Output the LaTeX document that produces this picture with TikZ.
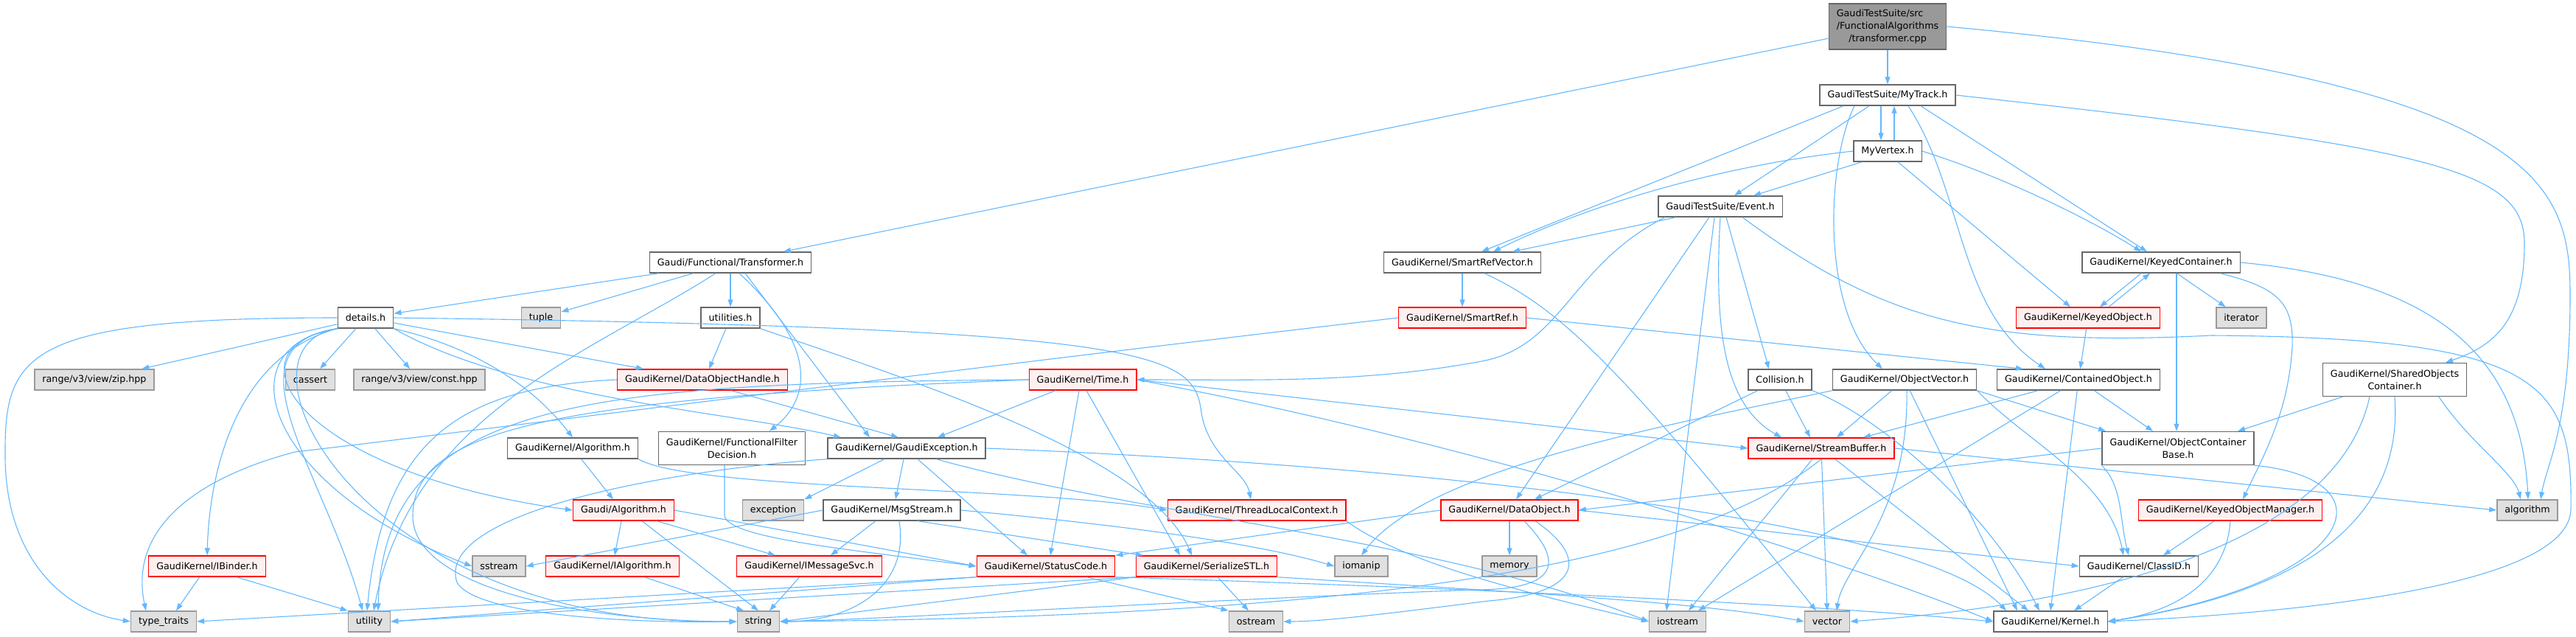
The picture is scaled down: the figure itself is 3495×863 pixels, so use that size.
\documentclass[tikz,border=0pt]{standalone}
\usepackage{fontspec}
\setmainfont{DejaVu Sans}
\usetikzlibrary{arrows.meta}
\definecolor{edgeBlue}{HTML}{63B8FF}
\definecolor{boxGray}{HTML}{666666}
\definecolor{sysGray}{HTML}{999999}
\definecolor{sysFill}{HTML}{E0E0E0}
\definecolor{truncFill}{HTML}{FFF0F0}
\begin{document}
\begin{tikzpicture}[x=1pt,y=-1pt,
    hdrBox/.style={draw=boxGray,fill=white,line width=1.4pt,inner xsep=10.5pt,inner ysep=2pt,
        minimum height=28pt,align=center,font=\fontsize{12.7}{17}\selectfont},
    hdrTrunc/.style={hdrBox,draw=red,fill=truncFill},
    hdrSys/.style={hdrBox,draw=sysGray,fill=sysFill},
    hdrRoot/.style={hdrBox,fill=sysGray,minimum height=62pt},
    hdrTwo/.style={minimum height=45pt},
    incEdge/.style={-{Triangle[length=10pt,width=7pt]},draw=edgeBlue,line width=1.1pt},
]
\useasboundingbox (0,0) rectangle (3495,863);
% files
\node[hdrRoot] (src) at (2561,36) {\rlap{GaudiTestSuite/src}\phantom{/FunctionalAlgorithms}\\/FunctionalAlgorithms\\/transformer.cpp};
\node[hdrBox] (mytrack) at (2561,129) {GaudiTestSuite/MyTrack.h};
\node[hdrBox] (myvertex) at (2561,205) {MyVertex.h};
\node[hdrBox] (event) at (2334,280) {GaudiTestSuite/Event.h};
\node[hdrBox] (transformer) at (991,356) {Gaudi/Functional/Transformer.h};
\node[hdrBox] (smartRefVector) at (1984,356) {GaudiKernel/SmartRefVector.h};
\node[hdrBox] (keyedContainer) at (2932,356) {GaudiKernel/KeyedContainer.h};
\node[hdrBox] (details) at (496,431) {details.h};
\node[hdrSys] (tuple) at (734,431) {tuple};
\node[hdrBox] (utilities) at (991,431) {utilities.h};
\node[hdrTrunc] (smartRef) at (1984,431) {GaudiKernel/SmartRef.h};
\node[hdrTrunc] (keyedObject) at (2833,431) {GaudiKernel/KeyedObject.h};
\node[hdrSys] (iterator) at (3041,431) {iterator};
\node[hdrSys] (rangeZip) at (128,515) {range/v3/view/zip.hpp};
\node[hdrSys] (cassert) at (421,515) {cassert};
\node[hdrSys] (rangeConst) at (569,515) {range/v3/view/const.hpp};
\node[hdrTrunc] (dataObjHandle) at (953,515) {GaudiKernel/DataObjectHandle.h};
\node[hdrTrunc] (time) at (1469,515) {GaudiKernel/Time.h};
\node[hdrBox] (collision) at (2415,515) {Collision.h};
\node[hdrBox] (objectVector) at (2584,515) {GaudiKernel/ObjectVector.h};
\node[hdrBox] (containedObj) at (2820,515) {GaudiKernel/ContainedObject.h};
\node[hdrBox,hdrTwo] (sharedObjs) at (3249,515) {GaudiKernel/SharedObjects\\Container.h};
\node[hdrBox] (kAlgorithm) at (777,608) {GaudiKernel/Algorithm.h};
\node[hdrBox,hdrTwo] (filterDecision) at (993,608) {GaudiKernel/FunctionalFilter\\Decision.h};
\node[hdrBox] (gaudiExc) at (1230,608) {GaudiKernel/GaudiException.h};
\node[hdrTrunc] (streamBuffer) at (2471,608) {GaudiKernel/StreamBuffer.h};
\node[hdrBox,hdrTwo] (objContBase) at (2955,608) {GaudiKernel/ObjectContainer\\Base.h};
\node[hdrTrunc] (gAlgorithm) at (846,692) {Gaudi/Algorithm.h};
\node[hdrSys] (exception) at (1049,692) {exception};
\node[hdrBox] (msgStream) at (1210,692) {GaudiKernel/MsgStream.h};
\node[hdrTrunc] (threadLocal) at (1705,692) {GaudiKernel/ThreadLocalContext.h};
\node[hdrTrunc] (dataObject) at (2048,692) {GaudiKernel/DataObject.h};
\node[hdrTrunc] (keyedObjMgr) at (3026,692) {GaudiKernel/KeyedObjectManager.h};
\node[hdrSys] (algorithm) at (3429,692) {algorithm};
\node[hdrTrunc] (iBinder) at (281,768) {GaudiKernel/IBinder.h};
\node[hdrSys] (sstream) at (677,768) {sstream};
\node[hdrTrunc] (iAlgorithm) at (831,768) {GaudiKernel/IAlgorithm.h};
\node[hdrTrunc] (iMessageSvc) at (1098,768) {GaudiKernel/IMessageSvc.h};
\node[hdrTrunc] (statusCode) at (1419,768) {GaudiKernel/StatusCode.h};
\node[hdrTrunc] (serializeSTL) at (1637,768) {GaudiKernel/SerializeSTL.h};
\node[hdrSys] (iomanip) at (1847,768) {iomanip};
\node[hdrSys] (memory) at (2048,768) {memory};
\node[hdrBox] (classID) at (2902,768) {GaudiKernel/ClassID.h};
\node[hdrSys] (typeTraits) at (222,843) {type\_traits};
\node[hdrSys] (utility) at (501,843) {utility};
\node[hdrSys] (string) at (1029,843) {string};
\node[hdrSys] (ostream) at (1704,843) {ostream};
\node[hdrSys] (iostream) at (2276,843) {iostream};
\node[hdrSys] (vector) at (2479,843) {vector};
\node[hdrBox] (kernel) at (2782,843) {GaudiKernel/Kernel.h};
% transformer.cpp
\draw[incEdge] (src) -- (transformer);
\draw[incEdge] (src) -- (mytrack);
\draw[incEdge] (src.east) .. controls (3450,110) and (3487,250) .. (3487,400) .. controls (3487,580) and (3455,630) .. ([xshift=18pt]algorithm.north);
% MyTrack.h
\draw[incEdge] ([xshift=-9pt]mytrack.south) -- ([xshift=-9pt]myvertex.north);
\draw[incEdge] ([xshift=-25pt]mytrack.south) -- ([xshift=19pt]event.north);
\draw[incEdge] ([xshift=-60pt]mytrack.south) -- ([xshift=26pt]smartRefVector.north);
\draw[incEdge] ([xshift=-45pt]mytrack.south) .. controls (2478,220) and (2470,420) .. ([xshift=-30pt]objectVector.north);
\draw[incEdge] ([xshift=28pt]mytrack.south) .. controls (2665,260) and (2655,420) .. ([xshift=-45pt]containedObj.north);
\draw[incEdge] ([xshift=45pt]mytrack.south) -- ([xshift=-19pt]keyedContainer.north);
\draw[incEdge] (mytrack.east) .. controls (3300,200) and (3425,230) .. (3425,330) .. controls (3425,440) and (3380,470) .. ([xshift=69pt]sharedObjs.north);
% MyVertex.h
\draw[incEdge] ([xshift=9pt]myvertex.north) -- ([xshift=9pt]mytrack.south);
\draw[incEdge] ([xshift=-35pt]myvertex.south) -- ([xshift=45pt]event.north);
\draw[incEdge] (myvertex.west) .. controls (2330,225) and (2150,280) .. ([xshift=42pt]smartRefVector.north);
\draw[incEdge] ([xshift=14pt]myvertex.south) -- ([xshift=-24pt]keyedObject.north);
\draw[incEdge] (myvertex.east) .. controls (2720,240) and (2840,300) .. ([xshift=-27pt]keyedContainer.north);
% Event.h
\draw[incEdge] ([xshift=-60pt]event.south) -- ([xshift=68pt]smartRefVector.north);
\draw[incEdge] ([xshift=-75pt]event.south) .. controls (2130,360) and (2120,470) .. (2010,490) .. controls (1850,520) and (1700,515) .. (time.east);
\draw[incEdge] ([xshift=-15pt]event.south) -- ([xshift=9pt]dataObject.north);
\draw[incEdge] ([xshift=-8pt]event.south) -- ([xshift=-15pt]iostream.north);
\draw[incEdge] (event.south) .. controls (2325,450) and (2340,550) .. ([xshift=-54pt]streamBuffer.north);
\draw[incEdge] ([xshift=8pt]event.south) -- ([xshift=-15pt]collision.north);
\draw[incEdge] ([xshift=30pt]event.south) .. controls (2560,440) and (2700,470) .. (3000,455) .. controls (3450,458) and (3490,520) .. (3488,690) .. controls (3488,790) and (3150,830) .. (kernel.east);
% Transformer.h
\draw[incEdge] (transformer) -- (details);
\draw[incEdge] (transformer) -- (tuple);
\draw[incEdge] (transformer) -- (utilities);
\draw[incEdge] ([xshift=-20pt]transformer.south) .. controls (800,480) and (560,560) .. ([xshift=6pt]utility.north);
\draw[incEdge] ([xshift=12pt]transformer.south) .. controls (1110,470) and (1100,540) .. ([xshift=51pt]filterDecision.north);
\draw[incEdge] ([xshift=20pt]transformer.south) -- ([xshift=-50pt]gaudiExc.north);
% details.h
\draw[incEdge] (details) -- (rangeZip);
\draw[incEdge] (details) -- (cassert);
\draw[incEdge] (details) -- (rangeConst);
\draw[incEdge] (details) -- (dataObjHandle);
\draw[incEdge] (details.west) .. controls (30,431) and (6,480) .. (7,620) .. controls (8,760) and (90,830) .. (typeTraits.west);
\draw[incEdge] (details.south west) .. controls (330,480) and (285,620) .. (iBinder.north);
\draw[incEdge] (details.south west) .. controls (300,470) and (360,660) .. (sstream.west);
\draw[incEdge] (details.south west) .. controls (300,470) and (400,640) .. (gAlgorithm.west);
\draw[incEdge] (details.south west) .. controls (300,470) and (440,640) .. ([xshift=-9pt]utility.north);
\draw[incEdge] (details.south west) .. controls (300,470) and (480,850) .. (string.west);
\draw[incEdge] (details.south east) .. controls (640,470) and (720,520) .. (kAlgorithm.north);
\draw[incEdge] (details.south east) .. controls (700,540) and (1000,560) .. ([xshift=-89pt]gaudiExc.north);
\draw[incEdge] (details.east) .. controls (1580,445) and (1620,480) .. (1630,560) .. controls (1640,620) and (1690,640) .. ([xshift=-8pt]threadLocal.north);
% utilities.h
\draw[incEdge] (utilities) -- ([xshift=9pt]dataObjHandle.north);
\draw[incEdge] (utilities.south east) .. controls (1250,520) and (1560,620) .. ([xshift=-20pt]serializeSTL.north);
% SmartRefVector.h, SmartRef.h
\draw[incEdge] (smartRefVector) -- (smartRef);
\draw[incEdge] ([xshift=30pt]smartRefVector.south) .. controls (2120,420) and (2200,500) .. ([xshift=-15pt]vector.north);
\draw[incEdge] (smartRef.east) -- ([xshift=-75pt]containedObj.north);
\draw[incEdge] (smartRef.west) .. controls (1300,500) and (600,590) .. (400,613) .. controls (260,650) and (175,720) .. ([xshift=-24pt]typeTraits.north);
% DataObjectHandle.h
\draw[incEdge] ([xshift=39pt]dataObjHandle.south) -- ([xshift=-11pt]gaudiExc.north);
\draw[incEdge] (dataObjHandle.west) .. controls (620,525) and (520,600) .. ([xshift=-3pt]utility.north);
% Time.h
\draw[incEdge] (time) -- ([xshift=42pt]gaudiExc.north);
\draw[incEdge] ([xshift=-5pt]time.south) -- ([xshift=6pt]statusCode.north);
\draw[incEdge] ([xshift=5pt]time.south) -- ([xshift=-36pt]serializeSTL.north);
\draw[incEdge] (time.east) -- (streamBuffer.west);
\draw[incEdge] (time.east) .. controls (2000,600) and (2500,760) .. (kernel.west);
\draw[incEdge] (time.west) .. controls (800,520) and (520,540) .. ([xshift=12pt]utility.north);
\draw[incEdge] (time.west) .. controls (760,540) and (560,580) .. (560,700) .. controls (560,800) and (800,843) .. (string.west);
% Collision.h
\draw[incEdge] (collision) -- ([xshift=34pt]dataObject.north);
\draw[incEdge] (collision) -- ([xshift=-15pt]streamBuffer.north);
\draw[incEdge] (collision.south east) .. controls (2560,570) and (2700,700) .. ([xshift=-15pt]kernel.north);
% ObjectVector.h
\draw[incEdge] (objectVector.south west) .. controls (2300,570) and (1940,630) .. (iomanip.north);
\draw[incEdge] (objectVector) -- ([xshift=21pt]streamBuffer.north);
\draw[incEdge] ([xshift=3pt]objectVector.south) .. controls (2590,700) and (2500,770) .. ([xshift=13pt]vector.north);
\draw[incEdge] (objectVector) -- ([xshift=-45pt]kernel.north);
\draw[incEdge] (objectVector.south east) .. controls (2750,600) and (2860,650) .. ([xshift=-21pt]classID.north);
\draw[incEdge] (objectVector.south east) -- ([xshift=-98pt]objContBase.north);
% ContainedObject.h
\draw[incEdge] (containedObj) -- ([xshift=57pt]streamBuffer.north);
\draw[incEdge] (containedObj) -- ([xshift=28pt]iostream.north);
\draw[incEdge] (containedObj) -- ([xshift=-34pt]objContBase.north);
\draw[incEdge] (containedObj) -- (kernel.north);
% KeyedContainer.h, KeyedObject.h
\draw[incEdge] ([xshift=-27pt]keyedContainer.south) -- ([xshift=16pt]keyedObject.north);
\draw[incEdge] ([xshift=28pt]keyedObject.north) -- ([xshift=-15pt]keyedContainer.south);
\draw[incEdge] (keyedContainer) -- (iterator);
\draw[incEdge] ([xshift=21pt]keyedContainer.south) -- ([xshift=-2pt]objContBase.north);
\draw[incEdge] ([xshift=80pt]keyedContainer.south) .. controls (3090,390) and (3112,410) .. (3110,470) .. controls (3105,560) and (3070,620) .. ([xshift=17pt]keyedObjMgr.north);
\draw[incEdge] (keyedContainer.east) .. controls (3300,380) and (3420,480) .. ([xshift=1pt]algorithm.north);
\draw[incEdge] (keyedObject) -- (containedObj);
% SharedObjectsContainer.h
\draw[incEdge] (sharedObjs) -- ([xshift=81pt]objContBase.north);
\draw[incEdge] ([xshift=-34pt]sharedObjs.south) .. controls (3175,720) and (2900,815) .. (vector.east);
\draw[incEdge] (sharedObjs.south) .. controls (3260,690) and (3150,800) .. (kernel.east);
\draw[incEdge] ([xshift=60pt]sharedObjs.south) .. controls (3350,600) and (3410,640) .. ([xshift=-9pt]algorithm.north);
% GaudiKernel/Algorithm.h, FunctionalFilterDecision.h
\draw[incEdge] (kAlgorithm) -- ([xshift=-14pt]gAlgorithm.north);
\draw[incEdge] (kAlgorithm.south east) .. controls (940,665) and (1400,660) .. (threadLocal.west);
\draw[incEdge] ([xshift=-10pt]filterDecision.south) -- (983,700) .. controls (990,730) and (1150,745) .. (statusCode.west);
% GaudiException.h
\draw[incEdge] ([xshift=-4pt]gaudiExc.south) -- ([xshift=5pt]msgStream.north);
\draw[incEdge] ([xshift=15pt]gaudiExc.south) -- ([xshift=-25pt]statusCode.north);
\draw[incEdge] ([xshift=-30pt]gaudiExc.south) -- (exception.north east);
\draw[incEdge] (gaudiExc.east) .. controls (1900,630) and (2600,700) .. ([xshift=-60pt]kernel.north);
\draw[incEdge] ([xshift=40pt]gaudiExc.south) .. controls (1550,700) and (1950,730) .. (iostream.west);
\draw[incEdge] (gaudiExc.south west) .. controls (880,640) and (590,700) .. (620,790) .. controls (650,840) and (900,845) .. (string.west);
% StreamBuffer.h
\draw[incEdge] (streamBuffer.east) -- (algorithm.west);
\draw[incEdge] (streamBuffer) -- ([xshift=15pt]iostream.north);
\draw[incEdge] (streamBuffer) -- (vector.north);
\draw[incEdge] (streamBuffer) -- ([xshift=-30pt]kernel.north);
\draw[incEdge] (streamBuffer.south) .. controls (2300,760) and (1900,835) .. (string.east);
% ObjectContainerBase.h
\draw[incEdge] (objContBase.west) -- (dataObject.east);
\draw[incEdge] (objContBase.south west) .. controls (2880,660) and (2875,700) .. ([xshift=-14pt]classID.north);
\draw[incEdge] (objContBase.south east) .. controls (3250,650) and (3200,790) .. (kernel.east);
% KeyedObjectManager.h
\draw[incEdge] (keyedObjMgr) -- ([xshift=33pt]classID.north);
\draw[incEdge] (keyedObjMgr.south) .. controls (3020,790) and (2950,830) .. (kernel.east);
% Gaudi/Algorithm.h
\draw[incEdge] (gAlgorithm) -- (iAlgorithm);
\draw[incEdge] ([xshift=45pt]gAlgorithm.south) -- ([xshift=-46pt]iMessageSvc.north);
\draw[incEdge] ([xshift=25pt]gAlgorithm.south) -- (string.north);
\draw[incEdge] (gAlgorithm.east) -- (statusCode.west);
% MsgStream.h
\draw[incEdge] ([xshift=-22pt]msgStream.south) -- ([xshift=29pt]iMessageSvc.north);
\draw[incEdge] (msgStream.west) -- (sstream.east);
\draw[incEdge] ([xshift=10pt]msgStream.south) .. controls (1235,800) and (1150,843) .. (string.east);
\draw[incEdge] ([xshift=35pt]msgStream.south) -- ([xshift=-86pt]serializeSTL.north);
\draw[incEdge] (msgStream.east) .. controls (1500,710) and (1700,735) .. (iomanip.west);
% ThreadLocalContext.h
\draw[incEdge] (threadLocal.south east) .. controls (1900,760) and (2050,800) .. (iostream.west);
% DataObject.h
\draw[incEdge] (dataObject) -- (memory);
\draw[incEdge] (dataObject.west) -- (statusCode.north east);
\draw[incEdge] (dataObject.east) -- (classID.west);
\draw[incEdge] ([xshift=20pt]dataObject.south) .. controls (2120,760) and (2120,800) .. (2000,800) .. controls (1600,815) and (1200,840) .. (string.east);
\draw[incEdge] ([xshift=35pt]dataObject.south) .. controls (2160,760) and (2140,805) .. (2020,815) .. controls (1900,830) and (1800,843) .. (ostream.east);
% IMessageSvc.h, IAlgorithm.h
\draw[incEdge] (iMessageSvc) -- ([xshift=15pt]string.north);
\draw[incEdge] (iAlgorithm) -- ([xshift=-20pt]string.north);
% StatusCode.h
\draw[incEdge] (statusCode.south west) -- (typeTraits.east);
\draw[incEdge] (statusCode.south west) -- (utility.east);
\draw[incEdge] ([xshift=55pt]statusCode.south) -- (ostream.north west);
\draw[incEdge] (statusCode.south east) .. controls (1900,795) and (2400,815) .. (kernel.west);
% SerializeSTL.h
\draw[incEdge] ([xshift=15pt]serializeSTL.south) -- ([xshift=-10pt]ostream.north);
\draw[incEdge] (serializeSTL.south west) -- (string.east);
\draw[incEdge] (serializeSTL.south west) -- (utility.east);
\draw[incEdge] (serializeSTL.south east) .. controls (2000,800) and (2300,815) .. (vector.west);
% IBinder.h
\draw[incEdge] (iBinder) -- ([xshift=17pt]typeTraits.north);
\draw[incEdge] ([xshift=40pt]iBinder.south) -- (utility.north west);
% ClassID.h
\draw[incEdge] (classID) -- ([xshift=32pt]kernel.north);
\end{tikzpicture}
\end{document}
